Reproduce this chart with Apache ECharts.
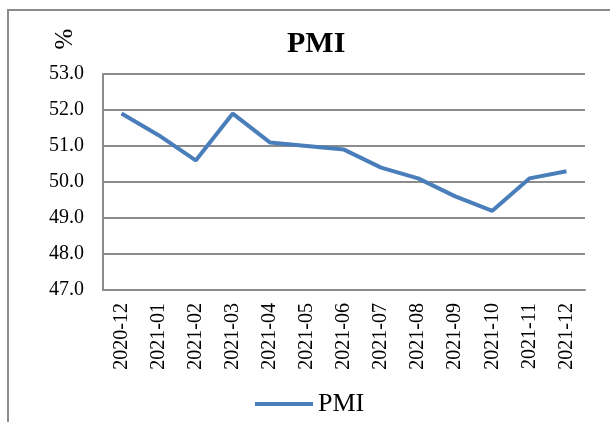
<!DOCTYPE html>
<html>
<head>
<meta charset="utf-8">
<script src="https://cdn.jsdelivr.net/npm/echarts@6/dist/echarts.min.js"></script>
<style>
html,body{margin:0;padding:0;background:#fff;}
#chart{width:610px;height:422px;}
</style>
</head>
<body>
<div id="chart"></div>
<script>
const categories = ['2020-12','2021-01','2021-02','2021-03','2021-04','2021-05','2021-06','2021-07','2021-08','2021-09','2021-10','2021-11','2021-12'];
const pmiValues = [51.9, 51.3, 50.6, 51.9, 51.1, 51.0, 50.9, 50.4, 50.1, 49.6, 49.2, 50.1, 50.3];
const seriesName = 'PMI';
const titleText = 'PMI';
const unitText = '%';

const serif = '"Liberation Serif", "DejaVu Serif", serif';
const chart = echarts.init(document.getElementById('chart'), null, {renderer: 'canvas'});
chart.setOption({
  backgroundColor: '#ffffff',
  animation: false,
  title: {
    text: titleText,
    left: 282,
    top: 24,
    textStyle: {fontFamily: serif, fontWeight: 'bold', fontSize: 30, color: '#000'}
  },
  graphic: [
    {
      type: 'rect',
      shape: {x: 8, y: 10, width: 720, height: 520},
      style: {fill: 'none', stroke: '#8c8c8c', lineWidth: 2},
      silent: true
    },
    {
      type: 'text',
      x: 65, y: 39,
      rotation: Math.PI / 2,
      style: {text: unitText, fontFamily: serif, fontSize: 25, fill: '#000', align: 'center', verticalAlign: 'middle'}
    }
  ],
  legend: {
    data: [seriesName],
    left: 250,
    top: 386,
    itemWidth: 58,
    itemHeight: 4,
    itemGap: 8,
    icon: 'rect',
    textStyle: {fontFamily: serif, fontSize: 26, color: '#000'}
  },
  grid: {left: 103, right: 25, top: 74, bottom: 132, containLabel: false},
  xAxis: {
    type: 'category',
    data: categories,
    boundaryGap: true,
    axisLine: {show: true, lineStyle: {color: '#8c8c8c', width: 2}},
    axisTick: {show: false},
    axisLabel: {rotate: 90, margin: 13, fontFamily: serif, fontSize: 20, color: '#000', interval: 0}
  },
  yAxis: {
    type: 'value',
    min: 47, max: 53, interval: 1,
    axisLine: {show: true, lineStyle: {color: '#8c8c8c', width: 2}},
    axisTick: {show: false},
    axisLabel: {margin: 19, fontFamily: serif, fontSize: 20, color: '#000', formatter: v => v.toFixed(1)},
    splitLine: {show: true, lineStyle: {color: '#8c8c8c', width: 2}}
  },
  series: [{
    name: seriesName,
    type: 'line',
    data: pmiValues,
    symbol: 'none',
    lineStyle: {color: '#4a7ebb', width: 4},
    itemStyle: {color: '#4a7ebb'}
  }]
});
</script>
</body>
</html>
